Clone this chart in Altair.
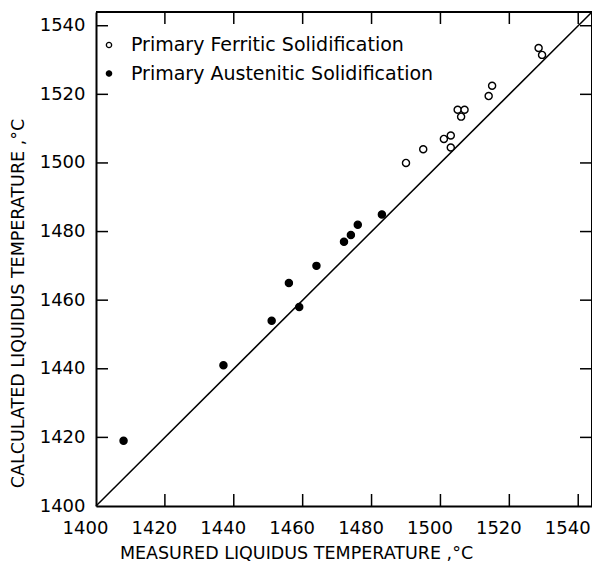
import altair as alt
import pandas as pd

# ---- data ----
fer_label = "Primary Ferritic Solidification"
aus_label = "Primary Austenitic Solidification"

fer_measured = [1490, 1495, 1501, 1503, 1503, 1505, 1507, 1506, 1514, 1515, 1528.5, 1529.5]
fer_calc = [1500, 1504, 1507, 1508, 1504.5, 1515.5, 1515.5, 1513.5, 1519.5, 1522.5, 1533.5, 1531.5]

aus_measured = [1408, 1437, 1451, 1456, 1459, 1464, 1472, 1474, 1476, 1483]
aus_calc = [1419, 1441, 1454, 1465, 1458, 1470, 1477, 1479, 1482, 1485]

diag = [1400, 1544]
tick_values = [1400, 1420, 1440, 1460, 1480, 1500, 1520, 1540]
inner_ticks = [1420, 1440, 1460, 1480, 1500, 1520, 1540]
domain = [1400, 1544]

W, H = 496, 494
TL = 12  # inward tick length
FONT = "DejaVu Sans"

pts = pd.DataFrame({
    "measured": fer_measured + aus_measured,
    "calc": fer_calc + aus_calc,
    "type": [fer_label] * len(fer_measured) + [aus_label] * len(aus_measured),
})
diag_df = pd.DataFrame({"measured": diag, "calc": diag})
ticks_df = pd.DataFrame({"v": inner_ticks})

xscale = alt.Scale(domain=domain, nice=False, zero=False)
yscale = alt.Scale(domain=domain, nice=False, zero=False)

x_axis = alt.Axis(
    values=tick_values, title="MEASURED LIQUIDUS TEMPERATURE ,°C",
    ticks=False, domain=True, domainColor="black", domainWidth=2,
    grid=False, labelPadding=13, labelOffset=-11, labelFlush=False,
    labelFontSize=18, titleFontSize=17.5, titleFontWeight="normal",
    titleX=200, titleY=47, titleBaseline="middle", titleAnchor="middle",
    titleAlign="center", format="d",
)
y_axis = alt.Axis(
    values=tick_values, title="CALCULATED LIQUIDUS TEMPERATURE ,°C",
    ticks=False, domain=True, domainColor="black", domainWidth=2,
    grid=False, labelPadding=11, labelFlush=False,
    labelFontSize=18, titleFontSize=17.5, titleFontWeight="normal",
    titleX=-78, titleY=291, titleBaseline="middle", titleAngle=-90,
    titleAlign="center", format="d",
)

X = alt.X("measured:Q", scale=xscale, axis=x_axis)
Y = alt.Y("calc:Q", scale=yscale, axis=y_axis)

points = alt.Chart(pts).mark_point(
    shape="circle", filled=True, stroke="black", strokeWidth=1.4,
    size=50, opacity=1,
).encode(
    x=X, y=Y,
    fill=alt.Fill(
        "type:N",
        scale=alt.Scale(domain=[fer_label, aus_label], range=["white", "black"]),
        sort=[fer_label, aus_label],
        legend=alt.Legend(
            title=None, orient="none", legendX=3.5, legendY=23.5,
            labelFontSize=19, labelFont=FONT, labelColor="black",
            symbolType="circle", symbolSize=28, symbolStrokeColor="black",
            symbolStrokeWidth=1.3, rowPadding=8.5, labelOffset=12.5,
            padding=0, labelLimit=0,
        ),
    ),
)

line = alt.Chart(diag_df).mark_line(color="black", strokeWidth=1.5).encode(x=X, y=Y)

rule_style = dict(color="black", strokeWidth=1.5)
bottom_ticks = alt.Chart(ticks_df).mark_rule(**rule_style).encode(
    x=alt.X("v:Q", scale=xscale, axis=x_axis), y=alt.value(H), y2=alt.value(H - TL)
)
top_ticks = alt.Chart(ticks_df).mark_rule(**rule_style).encode(
    x=alt.X("v:Q", scale=xscale, axis=x_axis), y=alt.value(0), y2=alt.value(TL)
)
left_ticks = alt.Chart(ticks_df).mark_rule(**rule_style).encode(
    y=alt.Y("v:Q", scale=yscale, axis=y_axis), x=alt.value(0), x2=alt.value(TL)
)
right_ticks = alt.Chart(ticks_df).mark_rule(**rule_style).encode(
    y=alt.Y("v:Q", scale=yscale, axis=y_axis), x=alt.value(W), x2=alt.value(W - TL)
)
# frame: top and right borders
top_border = alt.Chart(ticks_df).mark_rule(color="black", strokeWidth=2).encode(
    x=alt.value(0), x2=alt.value(W), y=alt.value(0)
)
right_border = alt.Chart(ticks_df).mark_rule(color="black", strokeWidth=2).encode(
    x=alt.value(W), y=alt.value(0), y2=alt.value(H)
)

chart = alt.layer(
    line, bottom_ticks, top_ticks, left_ticks, right_ticks,
    top_border, right_border, points
).properties(
    width=W, height=H,
    autosize=alt.AutoSizeParams(type="none"),
    padding={"left": 88, "top": 4, "right": 0, "bottom": 55},
).configure_view(
    stroke=None
).configure_axis(
    labelFont=FONT, titleFont=FONT, labelColor="black", titleColor="black",
).configure(background="white", font=FONT)

chart.save("out.html", embed_options={"renderer": "svg", "actions": False})
